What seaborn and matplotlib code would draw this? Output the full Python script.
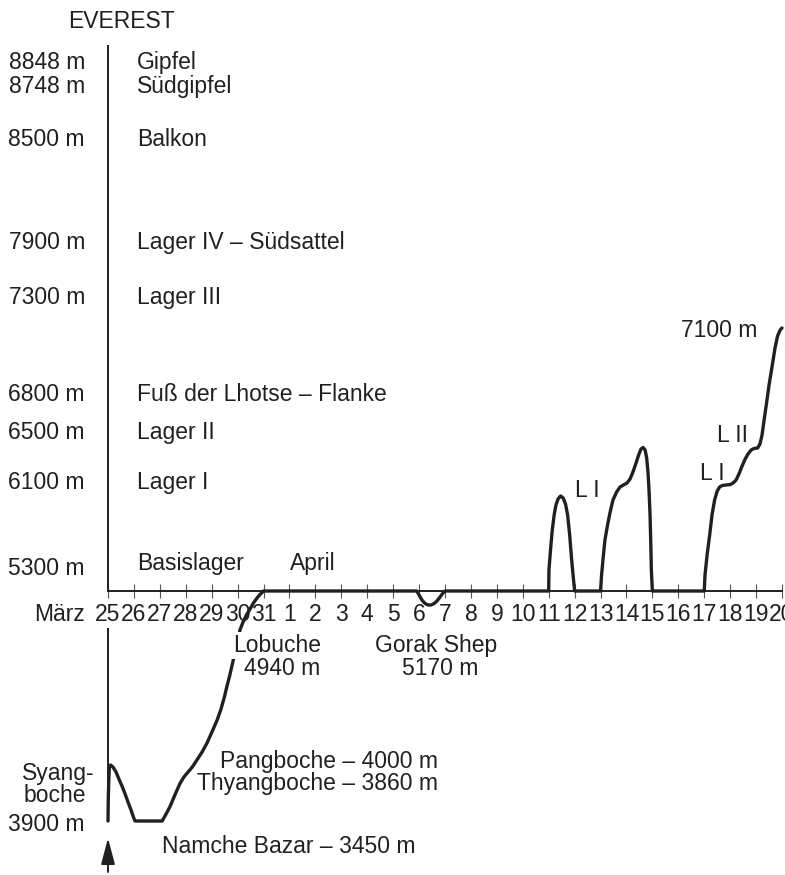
import numpy as np
import matplotlib
matplotlib.use("Agg")
import matplotlib.pyplot as plt
import seaborn as sns

# ---------------- data ----------------
# x: days since 25 March (0 = 25 March, 6 = 31 March, 7 = 1 April ... 26 = 20 April)
day_labels = ["25", "26", "27", "28", "29", "30", "31",
              "1", "2", "3", "4", "5", "6", "7", "8", "9", "10",
              "11", "12", "13", "14", "15", "16", "17", "18", "19", "20"]

# route profile (day, altitude in m)
# approach: start -> Syangboche -> Namche Bazar -> Thyangboche/Pangboche -> Lobuche -> base camp
approach_day = [0, 0.01, 0.03, 0.05, 0.10, 0.19, 0.31, 0.42, 0.54, 0.66,
                0.77, 0.89, 0.98, 1.04, 2.09, 2.24, 2.39, 2.58, 2.78, 2.93,
                3.09, 3.16, 3.28, 3.43, 3.63, 3.82, 4.01, 4.21, 4.36, 4.49,
                4.59, 4.69, 4.78, 4.86, 4.94, 5.02, 5.09, 5.21, 5.34, 5.48,
                5.61, 5.75, 5.88, 5.98, 6.0]
approach_alt = [3450, 3619, 3779, 3876, 3900, 3884, 3844, 3788, 3731, 3667,
                3603, 3538, 3482, 3450, 3450, 3506, 3565, 3659, 3753, 3804,
                3844, 3860, 3892, 3942, 4008, 4083, 4175, 4274, 4366, 4466,
                4557, 4640, 4724, 4799, 4873, 4940, 5006, 5058, 5104, 5144,
                5189, 5235, 5272, 5295, 5300]
# base camp period with the Gorak Shep trip
camp_day = [11.91, 12.00, 12.11, 12.23, 12.35, 12.46, 12.58, 12.69, 12.81,
            12.92, 13.0]
camp_alt = [5300, 5263, 5216, 5184, 5170, 5170, 5184, 5207, 5244, 5281, 5300]
# first climb to Lager I
climb1_day = [17.0, 17.01, 17.07, 17.13, 17.21, 17.28, 17.36, 17.46, 17.56,
              17.65, 17.73, 17.81, 17.88, 17.94, 18.0]
climb1_alt = [5300, 5453, 5598, 5729, 5853, 5925, 5969, 5991, 5976, 5932,
              5853, 5707, 5540, 5416, 5300]
# second climb via Lager I
climb2_day = [19.0, 19.04, 19.10, 19.17, 19.27, 19.37, 19.48, 19.62, 19.75,
              19.91, 20.02, 20.14, 20.25, 20.37, 20.47, 20.56, 20.64, 20.72,
              20.78, 20.83, 20.87, 20.91, 20.94, 20.96, 21.0]
climb2_alt = [5300, 5416, 5540, 5671, 5780, 5874, 5962, 6020, 6056, 6074,
              6085, 6116, 6172, 6244, 6308, 6356, 6368, 6348, 6284, 6172,
              6034, 5853, 5634, 5453, 5300]
# third climb: Lager I, Lager II, up to 7100 m
climb3_day = [23.0, 23.03, 23.11, 23.21, 23.30, 23.40, 23.50, 23.59, 23.69,
              23.84, 24.00, 24.11, 24.23, 24.34, 24.46, 24.58, 24.69, 24.81,
              24.92, 25.06, 25.15, 25.23, 25.31, 25.41, 25.50, 25.62, 25.73,
              25.83, 25.93, 26.0]
climb3_alt = [5300, 5416, 5562, 5707, 5853, 5962, 6027, 6056, 6067, 6071,
              6074, 6085, 6108, 6156, 6220, 6276, 6316, 6348, 6360, 6364,
              6396, 6468, 6587, 6729, 6841, 6939, 7032, 7094, 7125, 7135]

route_day = approach_day + camp_day + climb1_day + climb2_day + climb3_day
route_alt = approach_alt + camp_alt + climb1_alt + climb2_alt + climb3_alt

# altitude marks on the left
alt_values = [8848, 8748, 8500, 7900, 7300, 6800, 6500, 6100, 5300]
alt_names = ["Gipfel", "Südgipfel", "Balkon", "Lager IV – Südsattel",
             "Lager III", "Fuß der Lhotse – Flanke", "Lager II", "Lager I",
             "Basislager"]

# schematic (non-linear) vertical scale: altitude -> screen row
SCALE_ALT = np.array([3450, 3900, 4940, 5170, 5300, 6100, 6500, 6800,
                      7300, 7900, 8500, 8748, 8848, 8930], dtype=float)
SCALE_PX = np.array([821, 765, 640, 605, 591, 481, 431, 393,
                     296, 241, 138, 84.5, 60.5, 46], dtype=float)

# ---------------- style ----------------
W, H = 785, 875
sns.set_theme(style="white")
plt.rcParams["font.family"] = ["Liberation Sans", "DejaVu Sans"]
FS = 16.5
INK = "#231f20"

fig = plt.figure(figsize=(W / 100, H / 100), dpi=100)
ax = fig.add_axes([108 / W, (H - 821) / H, (782 - 108) / W, (821 - 46) / H])


def fwd(a):
    return np.interp(a, SCALE_ALT, -SCALE_PX)


def inv(v):
    return np.interp(v, -SCALE_PX, SCALE_ALT)


ax.set_yscale("function", functions=(fwd, inv))
ax.set_xlim(0, 26)
ax.set_ylim(3450, 8930)
ax.set_facecolor("none")

# route line
sns.lineplot(x=route_day, y=route_alt, sort=False, estimator=None,
             color=INK, linewidth=2.4, ax=ax)
for ln in ax.lines:
    ln.set_clip_on(False)
    ln.set_solid_joinstyle("round")
    ln.set_solid_capstyle("round")

# axes lines
for s in ["top", "right"]:
    ax.spines[s].set_visible(False)
ax.spines["left"].set_bounds(5300, 8930)
ax.spines["left"].set_linewidth(1.4)
ax.spines["left"].set_color(INK)
ax.spines["bottom"].set_position(("data", 5300))
ax.spines["bottom"].set_bounds(0, 26)
ax.spines["bottom"].set_linewidth(1.4)
ax.spines["bottom"].set_color(INK)
ax.plot([0, 0], [3450, 5020], color=INK, lw=1.4, clip_on=False,
        solid_capstyle="butt")

ax.set_xticks(range(len(day_labels)))
ax.set_xticklabels(day_labels)
ax.set_yticks([])
ax.tick_params(axis="x", direction="inout", length=9.4, width=0.8,
               color="#555555", pad=4.0, labelsize=FS, labelcolor=INK,
               bottom=True)
ax.tick_params(axis="y", left=False, labelleft=False)
ax.grid(False)

# altitude labels tied to the vertical scale
lift = {5300: 16}
for v, name in zip(alt_values, alt_names):
    dy = lift.get(v, -8.2)
    ax.annotate(f"{v} m", xy=(85 / W, v), xycoords=("figure fraction", "data"),
                xytext=(0, dy), textcoords="offset pixels", ha="right",
                va="baseline", fontsize=FS, color=INK, annotation_clip=False)
    dyn = 21 if v == 5300 else dy
    ax.annotate(name, xy=(137 / W, v), xycoords=("figure fraction", "data"),
                xytext=(0, dyn), textcoords="offset pixels", ha="left",
                va="baseline", fontsize=FS, color=INK, annotation_clip=False)


def ftext(x, ybase, s, ha="left", **kw):
    return fig.text(x / W, 1 - ybase / H, s, ha=ha, va="baseline",
                    fontsize=FS, color=INK, **kw)


ftext(68, 28, "EVEREST")
ftext(290, 570, "April")
ftext(85, 621, "März", ha="right")
ftext(277.5, 652, "Lobuche", ha="center",
      bbox=dict(facecolor="white", edgecolor="none", pad=1.5), zorder=5)
ftext(282.5, 675, "4940 m", ha="center", zorder=6)
ftext(436.5, 652, "Gorak Shep", ha="center")
ftext(440, 675, "5170 m", ha="center")
ftext(58.5, 780, "Syang-", ha="center")
ftext(55, 802, "boche", ha="center")
ftext(85, 831, "3900 m", ha="right")
ftext(438, 768, "Pangboche – 4000 m", ha="right")
ftext(438, 790, "Thyangboche – 3860 m", ha="right")
ftext(162, 853, "Namche Bazar – 3450 m")
ftext(575, 497, "L I")
ftext(700, 480, "L I")
ftext(717, 442, "L II")
ftext(757, 337, "7100 m", ha="right")

# start arrow
ax.annotate("", xy=(0, H - 838), xytext=(0, H - 872),
            xycoords=("data", "figure pixels"),
            textcoords=("data", "figure pixels"),
            arrowprops=dict(arrowstyle="-|>,head_length=1.6,head_width=0.42",
                            mutation_scale=10, lw=1.4, color=INK,
                            shrinkA=0, shrinkB=0),
            annotation_clip=False)

fig.savefig("out.png", dpi=100)
